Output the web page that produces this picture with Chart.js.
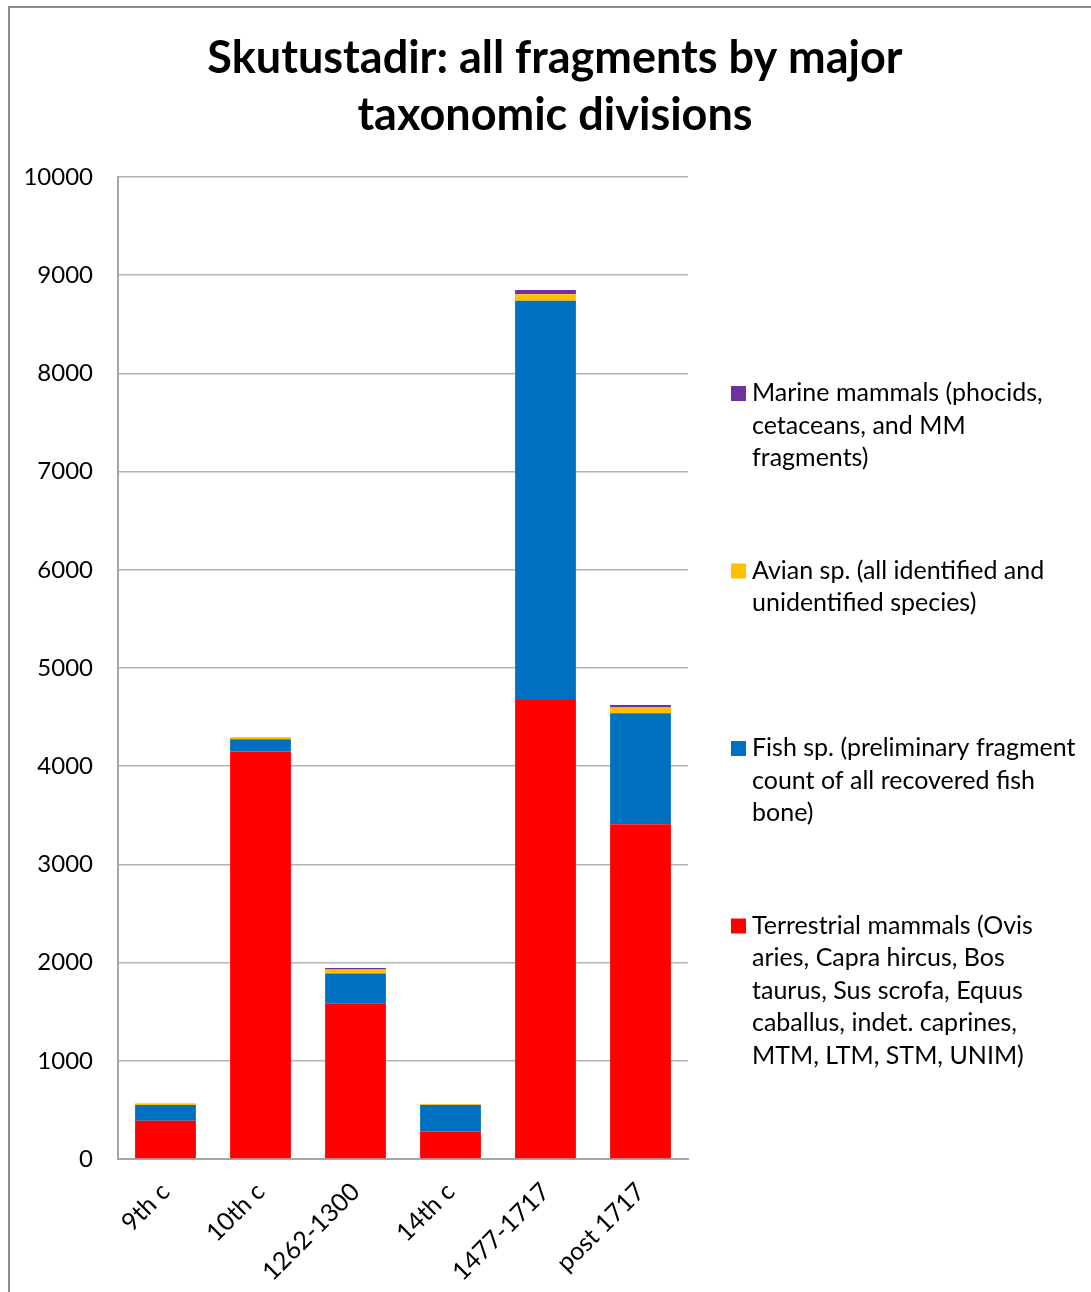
<!DOCTYPE html>
<html>
<head>
<meta charset="utf-8">
<script src="https://cdn.jsdelivr.net/npm/chart.js@4.4.0/dist/chart.umd.min.js"></script>
<style>
    html, body { margin: 0; padding: 0; background: #fff; }
    #wrap { position: relative; width: 1091px; height: 1292px; }
</style>
</head>
<body>
<div id="wrap"><canvas id="chart" width="1091" height="1292"></canvas></div>
<script>
const periods = ['9th c', '10th c', '1262-1300', '14th c', '1477-1717', 'post 1717'];

const terrestrial = [390, 4150, 1585, 280, 4675, 3410];
const fish = [160, 125, 305, 270, 4065, 1130];
const avian = [10, 17, 40, 8, 65, 57];
const marine = [2, 3, 15, 2, 45, 27];

const titleLines = ['Skutustadir: all fragments by major', 'taxonomic divisions'];

const terrestrialLabel = ['Terrestrial mammals (Ovis', 'aries, Capra hircus, Bos', 'taurus, Sus scrofa, Equus', 'caballus, indet. caprines,', 'MTM, LTM, STM, UNIM)'];
const fishLabel = ['Fish sp. (preliminary fragment', 'count of all recovered fish', 'bone)'];
const avianLabel = ['Avian sp. (all identified and', 'unidentified species)'];
const marineLabel = ['Marine mammals (phocids,', 'cetaceans, and MM', 'fragments)'];

const yTicks = [0, 1000, 2000, 3000, 4000, 5000, 6000, 7000, 8000, 9000, 10000];

const FONT = 'Lato, "Open Sans", sans-serif';

// frame, title and wrapped legend drawn on the canvas
const decorPlugin = {
    id: 'decor',
    beforeDraw(chart) {
        const ctx = chart.ctx;
        ctx.save();
        ctx.fillStyle = '#fff';
        ctx.fillRect(0, 0, chart.width, chart.height);
        ctx.strokeStyle = '#8c8c8c';
        ctx.lineWidth = 2;
        ctx.beginPath();
        ctx.moveTo(9, chart.height);
        ctx.lineTo(9, 7);
        ctx.lineTo(chart.width, 7);
        ctx.stroke();
        ctx.restore();
    },
    afterDraw(chart) {
        const ctx = chart.ctx;
        ctx.save();
        ctx.fillStyle = '#000';
        ctx.textAlign = 'center';
        ctx.textBaseline = 'middle';
        ctx.font = 'bold 45px ' + FONT;
        titleLines.forEach((line, i) => ctx.fillText(line, 555, 58 + i * 57));

        ctx.textAlign = 'left';
        ctx.font = '25px ' + FONT;
        const sets = chart.data.datasets.slice().reverse();
        sets.forEach((ds, i) => {
            const top = 393 + i * 177.5;
            ctx.fillStyle = ds.backgroundColor;
            ctx.fillRect(731, top - 7, 15, 15);
            ctx.fillStyle = '#000';
            ds.lines.forEach((line, j) => ctx.fillText(line, 752, top + j * 32.5));
        });
        ctx.restore();
    }
};

new Chart(document.getElementById('chart'), {
    type: 'bar',
    data: {
        labels: periods,
        datasets: [
            { label: terrestrialLabel.join(' '), lines: terrestrialLabel, data: terrestrial, backgroundColor: '#ff0000' },
            { label: fishLabel.join(' '), lines: fishLabel, data: fish, backgroundColor: '#0070c0' },
            { label: avianLabel.join(' '), lines: avianLabel, data: avian, backgroundColor: '#ffc000' },
            { label: marineLabel.join(' '), lines: marineLabel, data: marine, backgroundColor: '#7030a0' }
        ]
    },
    options: {
        responsive: false,
        animation: false,
        layout: { padding: { top: 177, right: 403, left: 0, bottom: 0 } },
        datasets: {
            bar: { barPercentage: 0.64, categoryPercentage: 1 }
        },
        plugins: {
            legend: { display: false },
            title: { display: false },
            tooltip: { enabled: false }
        },
        scales: {
            x: {
                stacked: true,
                afterFit(scale) { scale.height = 133; },
                grid: { display: false, drawTicks: false },
                border: { color: '#a6a6a6', width: 2 },
                ticks: {
                    color: '#000',
                    font: { family: FONT, size: 25 },
                    minRotation: 45,
                    maxRotation: 45,
                    padding: 18
                }
            },
            y: {
                stacked: true,
                min: 0,
                max: 10000,
                afterFit(scale) { scale.width = 118; },
                afterBuildTicks(scale) { scale.ticks = yTicks.map(v => ({ value: v })); },
                grid: { color: '#b3b3b3', lineWidth: 1.5, drawTicks: false },
                border: { color: '#a6a6a6', width: 2 },
                ticks: {
                    color: '#000',
                    font: { family: FONT, size: 24 },
                    padding: 25,
                    callback: v => String(v)
                }
            }
        }
    },
    plugins: [decorPlugin]
});
</script>
</body>
</html>
